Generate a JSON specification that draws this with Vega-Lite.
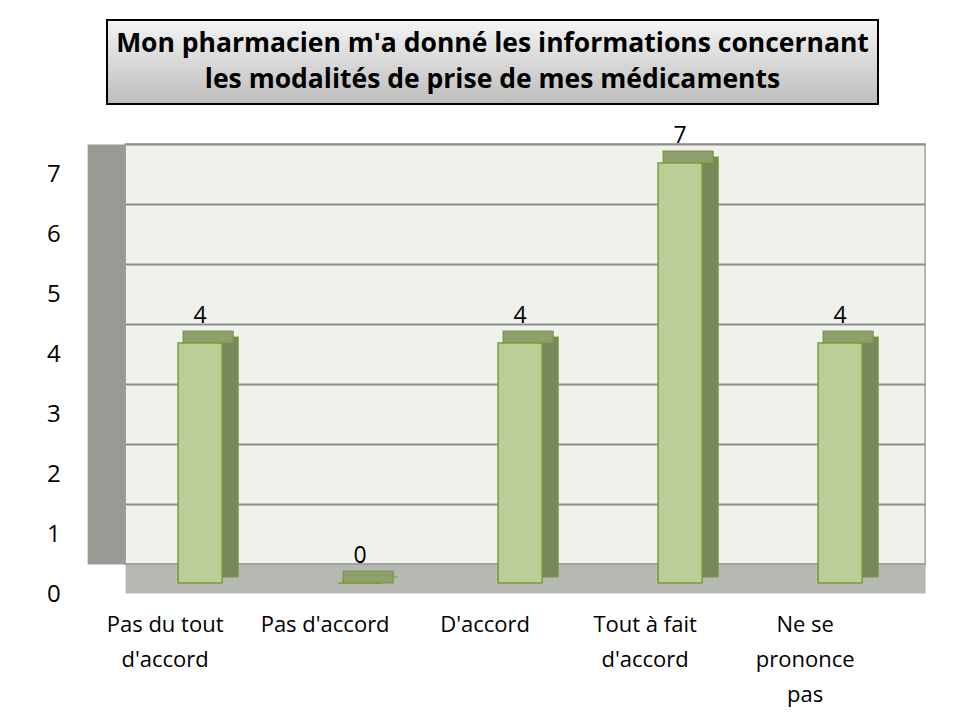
{
  "$schema": "https://vega.github.io/schema/vega-lite/v6.json",
  "background": "white",
  "padding": {"left": 45, "top": 19, "right": 0, "bottom": 0},
  "spacing": 19,
  "center": true,
  "vconcat": [
    {
      "width": 771,
      "height": 84,
      "view": {
        "fill": {"gradient": "linear", "x1": 0, "y1": 0, "x2": 0, "y2": 1,
          "stops": [{"offset": 0, "color": "#F4F4F4"}, {"offset": 1, "color": "#BDBDBD"}]},
        "stroke": "black",
        "strokeWidth": 2
      },
      "data": {"values": [{"zone": "titre"}]},
      "mark": {"type": "text", "font": "Open Sans", "fontWeight": "bold", "fontSize": 26.5, "lineHeight": 36, "align": "center", "baseline": "alphabetic", "dy": -10, "color": "black"},
      "encoding": {
        "y": {"field": "zone", "type": "nominal", "axis": {"orient": "right", "title": null, "labels": false, "ticks": false, "domain": true, "domainColor": "white", "domainWidth": 1, "offset": 65}},
        "text": {"value": ["Mon pharmacien m'a donné les informations concernant", "les modalités de prise de mes médicaments"]}
      }
    },
    {
      "width": 800,
      "height": 420,
      "view": {"fill": "#EFF2EB", "stroke": "#A3A3A3", "strokeWidth": 1.5},
      "data": {"values": [
        {"reponse": "Pas du tout d'accord", "effectif": 4},
        {"reponse": "Pas d'accord", "effectif": 0},
        {"reponse": "D'accord", "effectif": 4},
        {"reponse": "Tout à fait d'accord", "effectif": 7},
        {"reponse": "Ne se prononce pas", "effectif": 4}
      ]},
      "encoding": {
        "x": {
          "field": "reponse", "type": "nominal", "sort": null,
          "scale": {"paddingInner": 0, "paddingOuter": 0},
          "axis": {
            "title": null, "offset": 14.5, "domainWidth": 29, "domainColor": "#B6B8B2",
            "ticks": false, "labelPadding": 36, "labelOffset": -40, "labelAngle": 0,
            "labelFont": "Open Sans", "labelFontSize": 22, "labelColor": "black", "labelLineHeight": 35,
            "labelLimit": 0,
            "labelExpr": "datum.value === 'Ne se prononce pas' ? ['Ne se', 'prononce', 'pas'] : (length(datum.value) > 14 ? [slice(datum.value, 0, lastindexof(datum.value, ' ')), slice(datum.value, lastindexof(datum.value, ' ') + 1)] : datum.value)"
          }
        },
        "y": {
          "field": "effectif", "type": "quantitative",
          "scale": {"domain": [0, 7], "nice": false},
          "axis": {
            "title": null, "offset": 19, "domainWidth": 38, "domainColor": "#989B93",
            "ticks": false, "labelPadding": 46, "labelOffset": 30,
            "values": [0, 1, 2, 3, 4, 5, 6, 7],
            "grid": true, "gridColor": "#8E8E8E", "gridWidth": 2,
            "labelFont": "Open Sans", "labelFontSize": 24, "labelColor": "black"
          }
        }
      },
      "layer": [
        {"mark": {"type": "bar", "width": 16, "xOffset": 25, "yOffset": 13, "fill": "#77895A", "stroke": "#7B963F", "strokeWidth": 1.2, "opacity": 1}},
        {"mark": {"type": "tick", "orient": "horizontal", "thickness": 12, "size": 50, "xOffset": 3, "yOffset": 13, "fill": "#8FA16B", "stroke": "#7B963F", "strokeWidth": 1.2, "opacity": 1, "filled": true}},
        {"mark": {"type": "bar", "width": 44, "xOffset": -5, "yOffset": 19, "fill": "#BCCE97", "stroke": "#7A9A3D", "strokeWidth": 1.5, "opacity": 1}},
        {"mark": {"type": "text", "xOffset": -5, "baseline": "alphabetic", "dy": -1, "font": "Open Sans", "fontSize": 23, "color": "black"},
         "encoding": {"text": {"field": "effectif", "type": "quantitative"}}}
      ]
    }
  ]
}
